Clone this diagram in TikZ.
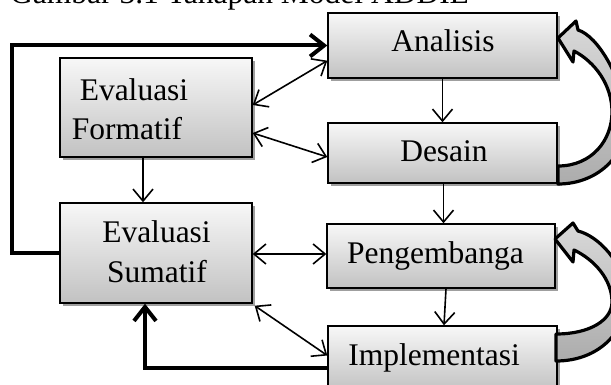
\documentclass[tikz,border=0pt]{standalone}
\usepackage{fontspec}
\setmainfont{Liberation Serif}
\usetikzlibrary{arrows.meta,shadows,calc}
\begin{document}
\begin{tikzpicture}[x=1pt,y=-1pt,
  box/.style={draw=black,line width=1.4pt,inner sep=0pt,top color=gray!6,bottom color=gray!48,
    drop shadow={shadow xshift=3pt,shadow yshift=-3pt,fill=gray!75,opacity=1}},
  lbl/.style={font=\fontsize{31.5}{39}\selectfont,inner sep=0pt},
  thin/.style={line width=1.6pt},
  thickline/.style={line width=4pt,-{Straight Barb[length=14pt,width=22pt]}},
  >={Straight Barb[length=12pt,width=20pt]},
  curvarrow/.style={draw=black,line width=3.2pt,line join=round,top color=gray!30,bottom color=gray!65}]
\fill[white] (0,0) rectangle (611,385);
\useasboundingbox (0,0) rectangle (611,385);

% title (partly cut off at the top)
\node[lbl,anchor=base west] (title) at (10,4) {Gambar 3.1 Tahapan Model ADDIE};

% boxes
\node[box,minimum width=229pt,minimum height=65pt] (ana) at (442.5,45.5) {};
\node[lbl,anchor=base] (anat) at (443,52) {Analisis};
\node[box,minimum width=229pt,minimum height=60pt] (des) at (442.5,153) {};
\node[lbl,anchor=base] (dest) at (444,162) {Desain};
\node[box,minimum width=228pt,minimum height=64pt] (peng) at (441,256) {};
\node[lbl,anchor=base] (pengt) at (435.5,263) {Pengembanga};
\node[box,minimum width=229pt,minimum height=65pt] (impl) at (442.5,358.5) {};
\node[lbl,anchor=base] (implt) at (434,365) {Implementasi};
\node[box,minimum width=192pt,minimum height=99pt] (form) at (156,107.5) {};
\node[lbl,anchor=base] (formt1) at (134,101) {Evaluasi};
\node[lbl,anchor=base] (formt2) at (127,140) {Formatif};
\node[box,minimum width=192pt,minimum height=100pt] (sum) at (156,253) {};
\node[lbl,anchor=base] (sumt1) at (156.5,243) {Evaluasi};
\node[lbl,anchor=base] (sumt2) at (157,282) {Sumatif};

% thick connectors
\draw[thickline] (sum.west) -- ++(-47,0) |- (ana.west);
\draw[thickline] ([yshift=-9pt]impl.west) -| ([xshift=-11pt]sum.south);

% thin connectors
\draw[thin,<->] ([yshift=2.5pt]form.east) -- ([yshift=18pt]ana.south west);
\draw[thin,<->] ([yshift=-25.5pt]form.east) -- ([yshift=-4pt]des.west);
\draw[thin,->] (ana.south) -- (des.north);
\draw[thin,->] ([xshift=1pt]des.south) -- ([xshift=2.5pt]peng.north);
\draw[thin,->] ([xshift=5pt]peng.south) -- ([xshift=1.5pt]impl.north);
\draw[thin,->] ([xshift=-13pt]form.south) -- ([xshift=-13pt]sum.north);
\draw[thin,<->] ([yshift=-1pt]sum.east) -- ([yshift=-1pt]sum.east -| peng.west);
\draw[thin,<->] ([shift={(2pt,-2pt)}]sum.south east) -- ([yshift=3pt]impl.west);

% curved block arrows
\draw[curvarrow] (558,38) -- (576,21) -- (578,30)
  .. controls (598,36) and (622,78) .. (626,115)
  .. controls (630,152) and (600,184) .. (558,184)
  -- (558,166)
  .. controls (592,166) and (612,140) .. (612,112)
  .. controls (612,85) and (595,62) .. (574,51)
  -- (573,62) -- cycle;
\draw[curvarrow] (555,239) -- (573,223) -- (578,231)
  .. controls (598,236) and (624,262) .. (626,295)
  .. controls (628,330) and (600,361) .. (556,361)
  -- (556,334)
  .. controls (590,334) and (612,320) .. (612,302)
  .. controls (612,280) and (595,260) .. (574,250)
  -- (573,262) -- cycle;
\end{tikzpicture}
\end{document}
